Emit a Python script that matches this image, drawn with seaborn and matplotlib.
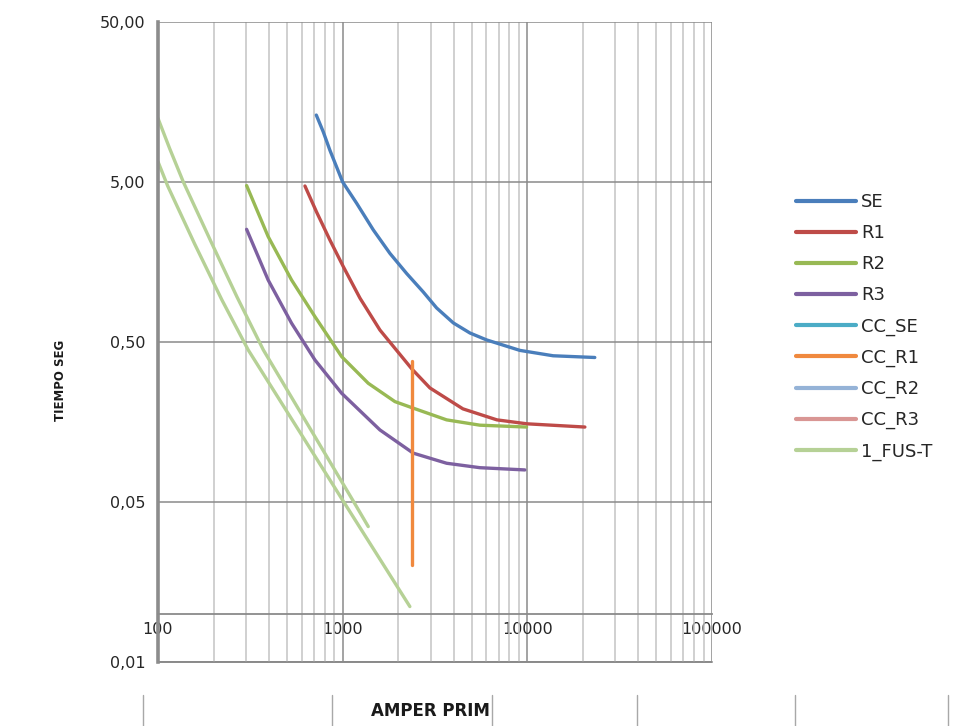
import numpy as np
import pandas as pd
import seaborn as sns
import matplotlib.pyplot as plt
from matplotlib.lines import Line2D
from matplotlib.ticker import LogLocator, NullLocator, NullFormatter, FuncFormatter

# curvas (amper primario vs tiempo en seg)
se_amp = [720, 785, 853, 1000, 1191, 1465, 1803, 2221, 2732, 3228, 3974, 4890, 6021, 9120, 13800, 23200]
se_seg = [13.1, 10.3, 7.9, 5.0, 3.68, 2.51, 1.79, 1.34, 1.027, 0.816, 0.658, 0.569, 0.515, 0.443, 0.41, 0.40]

r1_amp = [625, 722, 853, 1008, 1241, 1592, 2371, 2970, 4480, 6845, 9950, 20500]
r1_seg = [4.72, 3.25, 2.17, 1.48, 0.94, 0.594, 0.339, 0.258, 0.191, 0.163, 0.154, 0.147]

r2_amp = [302, 395, 529, 708, 988, 1376, 1919, 2410, 3656, 5534, 9910]
r2_seg = [4.75, 2.28, 1.22, 0.72, 0.405, 0.276, 0.212, 0.193, 0.163, 0.151, 0.147]

r3_amp = [302, 395, 529, 708, 988, 1592, 2410, 3656, 5534, 9700]
r3_seg = [2.53, 1.22, 0.655, 0.386, 0.239, 0.141, 0.101, 0.0873, 0.0819, 0.0793]

cc_r1_amp = [2380, 2380]
cc_r1_seg = [0.38, 0.0202]

# fusible: curva superior e inferior
fus_sup_amp = [100, 115.7, 137, 194, 268, 372, 1147, 1376]
fus_sup_seg = [12.5, 8.09, 5.02, 2.11, 0.955, 0.446, 0.0502, 0.0351]
fus_inf_amp = [100, 112.9, 158, 222, 308, 1012, 2312]
fus_inf_seg = [6.7, 4.72, 2.05, 0.915, 0.446, 0.0502, 0.0111]

series = ["SE", "R1", "R2", "R3", "CC_SE", "CC_R1", "CC_R2", "CC_R3", "1_FUS-T"]
colores = ["#4A7EBB", "#BE4B48", "#98B954", "#7D60A0", "#4BACC6",
           "#F0893E", "#95B3D7", "#D99694", "#B6D196"]

x_ticks = [100, 1000, 10000, 100000]
y_ticks = [0.005, 0.05, 0.5, 5, 50]

partes = [
    ("SE", "a", se_amp, se_seg),
    ("R1", "a", r1_amp, r1_seg),
    ("R2", "a", r2_amp, r2_seg),
    ("R3", "a", r3_amp, r3_seg),
    ("CC_R1", "a", cc_r1_amp, cc_r1_seg),
    ("1_FUS-T", "a", fus_sup_amp, fus_sup_seg),
    ("1_FUS-T", "b", fus_inf_amp, fus_inf_seg),
]
df = pd.concat([pd.DataFrame({"serie": s, "parte": s + p, "amp": a, "seg": t})
                for s, p, a, t in partes], ignore_index=True)

sns.set_style("white")
plt.rcParams["font.family"] = ["DejaVu Sans"]

fig = plt.figure(figsize=(9.8, 7.26), dpi=100)
ax = fig.add_axes([0.1612, 0.0882, 0.5653, 0.8815])

pal = dict(zip(series, colores))
sns.lineplot(data=df, x="amp", y="seg", hue="serie", units="parte",
             estimator=None, sort=False, palette=pal, lw=2.4,
             legend=False, ax=ax)

ax.set_xscale("log")
ax.set_yscale("log")
ax.set_xlim(100, 100000)
ax.set_ylim(0.005, 50)

ax.set_xticks(x_ticks)
ax.set_xticklabels([str(v) for v in x_ticks])
ax.xaxis.set_minor_locator(LogLocator(base=10, subs=np.arange(2, 10)))
ax.xaxis.set_minor_formatter(NullFormatter())
ax.set_yticks(y_ticks)
ax.yaxis.set_major_formatter(FuncFormatter(lambda v, p: f"{v:.2f}".replace(".", ",")))
ax.yaxis.set_minor_locator(NullLocator())

ax.set_axisbelow(True)
ax.grid(which="major", color="#8a8a8a", lw=1.1)
ax.grid(which="minor", axis="x", color="#c4c4c4", lw=1.1)
# borde inferior del area de trazado
ax.axhline(y_ticks[0], color="#8a8a8a", lw=1.4, clip_on=False, zorder=0.5)

for s in ["top", "right"]:
    ax.spines[s].set_visible(False)
ax.spines["left"].set_color("#8c8c8c")
ax.spines["left"].set_linewidth(2.6)
ax.spines["bottom"].set_position(("data", 0.01))
ax.spines["bottom"].set_color("#8a8a8a")
ax.spines["bottom"].set_linewidth(1.3)

ax.tick_params(axis="both", which="both", length=0, labelsize=11.5, colors="#262626")
ax.tick_params(axis="x", pad=6)
ax.tick_params(axis="y", pad=9)

ax.set_xlabel("AMPER PRIM", fontsize=12, fontweight="bold", color="#1a1a1a")
ax.xaxis.set_label_coords(0.491, -0.062)
ax.set_ylabel("TIEMPO SEG", fontsize=8.5, fontweight="bold", color="#1a1a1a")
ax.yaxis.set_label_coords(-0.165, 0.44)

handles = [Line2D([0], [0], color=c, lw=3) for c in colores]
ax.legend(handles, series, loc="upper left", bbox_to_anchor=(0.803, 0.746),
          bbox_transform=fig.transFigure, frameon=False, fontsize=13,
          handlelength=3.3, handletextpad=0.3, labelspacing=0.72, borderpad=0)

# marcas de celdas abajo
for xm in [143, 332, 492, 637, 795, 948]:
    fig.add_artist(Line2D([xm / 980, xm / 980], [0, 0.043], color="#a8a8a8", lw=1))

fig.savefig("out.png", dpi=100)
